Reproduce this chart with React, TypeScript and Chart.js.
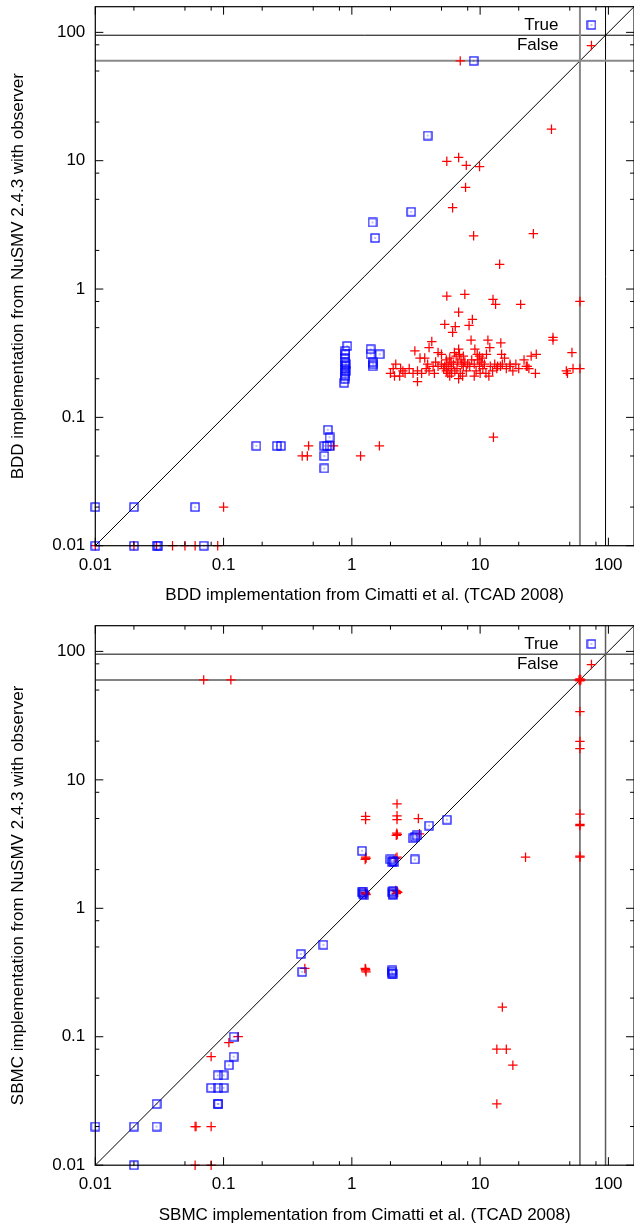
import React, { useEffect, useRef } from 'react';
import { Chart, registerables } from 'chart.js';

Chart.register(...registerables);

const FONT = "'Liberation Sans', Arial, Helvetica, sans-serif";
const AXIS_MIN = 0.01;
const AXIS_MAX = 158.5;
const majorTicks = [0.01, 0.1, 1, 10, 100];
const tickLabels = ['0.01', '0.1', '1', '10', '100'];
const minorSteps = [2, 5, 8];
const timeoutLimit = 60;
const upperLimit = 95;
const legendLabels = ['True', 'False'];

// ---- Top panel: BDD ----
const bddTrueX = [0.01, 0.01, 0.02, 0.02, 0.03, 0.031, 0.06, 0.07, 0.18, 0.26, 0.28, 0.61, 0.61, 0.61, 0.64, 0.67, 0.67, 0.65, 0.92, 0.89, 0.89, 0.88, 0.89, 0.9, 0.89, 0.88, 0.9, 0.88, 0.89, 0.88, 0.87, 1.4, 1.4, 1.65, 1.45, 1.47, 1.45, 1.45, 1.52, 2.9, 3.9, 8.9];
const bddTrueY = [0.01, 0.02, 0.02, 0.01, 0.01, 0.01, 0.02, 0.01, 0.06, 0.06, 0.06, 0.04, 0.05, 0.06, 0.06, 0.06, 0.07, 0.08, 0.36, 0.33, 0.31, 0.29, 0.27, 0.26, 0.25, 0.24, 0.23, 0.22, 0.21, 0.2, 0.186, 0.34, 0.31, 0.31, 0.27, 0.26, 0.25, 3.3, 2.5, 4.0, 15.7, 60];

const bddFalseX = [
  0.01, 0.02, 0.03, 0.04, 0.05, 0.06, 0.09, 0.1, 0.41, 0.45,
  0.46, 0.72, 1.17, 1.64, 12.7, 7.0, 36, 5.5, 6.8, 7.8,
  9.9, 7.7, 6.1, 8.9, 26, 14.2, 5.5, 7.6, 12.6, 13.2,
  20.7, 60, 6.8, 5.3, 6.4, 6.1, 8.7, 8.2, 37, 37,
  8.5, 11.5, 4.2, 4.0, 14.5, 11.9, 9.1, 6.8, 3.1, 52,
  4.7, 5.0, 27.4, 25, 3.4, 3.7, 14.7, 9.9, 10.4, 6.5,
  6.9, 7.4, 5.45, 5.95, 22, 5.0, 4.3, 13, 14.9, 17.1,
  13.7, 17.1, 22.9, 24, 2.1, 2.4, 2.15, 2.36, 2.6, 3.0,
  3.25, 3.5, 3.8, 4.0, 4.4, 4.7, 5.3, 5.45, 5.6, 5.8,
  5.95, 6.35, 7.0, 7.4, 7.8, 8.3, 9.3, 9.9, 10.5, 11.1,
  11.7, 13.5, 14.4, 23.3, 27, 47, 48, 53, 60, 3.25,
  5.2, 5.5, 5.7, 6.0, 6.2, 6.6, 6.7, 7.1, 7.2, 7.6,
  8.0, 8.6, 9.0, 9.6, 10.2, 10.8, 12, 12.5, 11.2, 9.5,
  6.3, 5.8, 4.5, 3.9, 2.8, 2.5, 16, 18, 20, 19,
  15.5, 6.8, 7.3, 9.0, 10, 2.2, 2.0,
];
const bddFalseY = [
  0.01, 0.01, 0.01, 0.01, 0.01, 0.01, 0.01, 0.02, 0.05, 0.05,
  0.06, 0.06, 0.05, 0.06, 0.07, 60, 17.6, 9.9, 10.6, 9.2,
  9.0, 6.2, 4.3, 2.6, 2.7, 1.56, 0.88, 0.91, 0.83, 0.76,
  0.76, 0.8, 0.66, 0.53, 0.51, 0.46, 0.58, 0.52, 0.42, 0.4,
  0.4, 0.4, 0.39, 0.35, 0.38, 0.35, 0.34, 0.34, 0.33, 0.32,
  0.32, 0.31, 0.31, 0.3, 0.29, 0.29, 0.31, 0.3, 0.29, 0.3,
  0.31, 0.3, 0.28, 0.27, 0.28, 0.26, 0.25, 0.26, 0.26, 0.26,
  0.25, 0.25, 0.25, 0.24, 0.24, 0.24, 0.21, 0.21, 0.22, 0.22,
  0.23, 0.22, 0.24, 0.23, 0.22, 0.25, 0.25, 0.23, 0.22, 0.21,
  0.24, 0.23, 0.22, 0.25, 0.23, 0.25, 0.23, 0.25, 0.24, 0.22,
  0.21, 0.24, 0.25, 0.25, 0.22, 0.23, 0.22, 0.24, 0.24, 0.19,
  0.24, 0.26, 0.25, 0.22, 0.26, 0.24, 0.27, 0.28, 0.26, 0.27,
  0.26, 0.28, 0.26, 0.28, 0.27, 0.26, 0.25, 0.23, 0.31, 0.31,
  0.32, 0.29, 0.27, 0.26, 0.24, 0.23, 0.24, 0.23, 0.24, 0.26,
  0.29, 0.2, 0.21, 0.21, 0.22, 0.26, 0.22,
];

// ---- Bottom panel: SBMC ----
const sbmcTrueX = [
  0.01, 0.02, 0.03, 0.02, 0.03, 0.09, 0.091, 0.08, 0.09, 0.1,
  0.09, 0.1, 0.11, 0.12, 0.12, 0.41, 0.4, 0.6, 2.05, 2.05,
  2.07, 2.1, 1.22, 1.2, 1.25, 1.23, 2.1, 2.05, 2.1, 2.08,
  1.2, 2.05, 2.1, 2.0, 2.15, 3.1, 3.0, 3.1, 3.2, 4.0, 5.5,
];
const sbmcTrueY = [
  0.02, 0.02, 0.02, 0.01, 0.03, 0.03, 0.03, 0.04, 0.04, 0.04,
  0.05, 0.05, 0.06, 0.07, 0.1, 0.32, 0.44, 0.52, 0.31, 0.32,
  0.33, 0.31, 1.3, 1.33, 1.28, 1.35, 1.3, 1.33, 1.36, 1.28,
  2.8, 2.3, 2.35, 2.4, 2.3, 2.4, 3.5, 3.6, 3.7, 4.4, 4.9,
];
const sbmcFalseX = [
  0.06, 0.08, 0.06, 0.061, 0.08, 0.08, 0.11, 0.13, 0.43, 1.28,
  1.27, 1.29, 1.28, 1.28, 1.27, 1.29, 2.25, 2.22, 2.28, 2.2,
  1.28, 1.27, 1.29, 2.25, 2.2, 2.24, 2.22, 2.26, 3.37, 3.3,
  1.28, 1.28, 2.25, 2.25, 2.25, 13.5, 13.5, 16, 18, 14.9,
  22.6, 60, 60, 60, 60, 60, 60, 60, 60, 60,
  61, 59, 60, 60, 0.07, 0.114,
];
const sbmcFalseY = [
  0.01, 0.01, 0.02, 0.02, 0.02, 0.07, 0.09, 0.1, 0.34, 0.33,
  0.34, 0.32, 0.335, 1.3, 1.33, 1.28, 1.35, 1.3, 1.33, 1.38,
  2.5, 2.4, 2.45, 2.5, 2.45, 3.85, 3.7, 3.75, 3.8, 5.0,
  5.2, 4.9, 5.25, 4.9, 6.5, 0.03, 0.08, 0.08, 0.06, 0.17,
  2.5, 2.5, 2.55, 4.4, 4.5, 5.4, 17.5, 19.9, 34, 60,
  60, 60, 59, 61, 60, 60,
];

const CANVAS_W = 640;
const CANVAS_H = 613;
const BLUE = 'rgb(0,0,255)';
const RED = 'rgb(255,0,0)';

function makeSquareMarker(): HTMLCanvasElement {
  const c = document.createElement('canvas');
  c.width = 10;
  c.height = 10;
  const g = c.getContext('2d')!;
  g.strokeStyle = 'rgba(0,0,255,0.9)';
  g.lineWidth = 1.3;
  g.strokeRect(1, 1, 8, 8);
  g.fillStyle = BLUE;
  g.fillRect(4.5, 4.5, 1, 1);
  return c;
}

const toPoints = (xs: number[], ys: number[]) => xs.map((x, i) => ({ x, y: ys[i] }));

const framePlugin = {
  id: 'gnuFrame',
  afterDatasetsDraw(chart: any, _args: any, opts: any) {
    const { ctx, chartArea: a, scales } = chart;
    const xs = scales.x;
    const ys = scales.y;
    ctx.save();
    ctx.strokeStyle = '#000';
    ctx.lineWidth = 1.2;
    ctx.strokeRect(a.left, a.top, a.right - a.left, a.bottom - a.top);
    const marks: [number, number][] = [];
    for (const m of majorTicks) {
      marks.push([m, 8]);
      for (const k of minorSteps) {
        const v = m * k;
        if (v < AXIS_MAX) marks.push([v, 4]);
      }
    }
    ctx.lineWidth = 1;
    ctx.beginPath();
    for (const [v, len] of marks) {
      const px = xs.getPixelForValue(v);
      ctx.moveTo(px, a.bottom);
      ctx.lineTo(px, a.bottom - len);
      ctx.moveTo(px, a.top);
      ctx.lineTo(px, a.top + len);
      const py = ys.getPixelForValue(v);
      ctx.moveTo(a.left, py);
      ctx.lineTo(a.left + len, py);
      ctx.moveTo(a.right, py);
      ctx.lineTo(a.right - len, py);
    }
    ctx.stroke();

    // key
    ctx.font = `17px ${FONT}`;
    ctx.fillStyle = '#000';
    ctx.textAlign = 'right';
    ctx.textBaseline = 'middle';
    const tx = a.right - 75.6;
    const mx = a.right - 42.6;
    const r1 = a.top + 18.3;
    const r2 = a.top + 38.8;
    ctx.fillText(legendLabels[0], tx, r1);
    ctx.fillText(legendLabels[1], tx, r2);
    ctx.drawImage(opts.marker, mx - 5, r1 - 5);
    ctx.strokeStyle = RED;
    ctx.lineWidth = 1.25;
    ctx.beginPath();
    ctx.moveTo(mx - 4.7, r2);
    ctx.lineTo(mx + 4.7, r2);
    ctx.moveTo(mx, r2 - 4.7);
    ctx.lineTo(mx, r2 + 4.7);
    ctx.stroke();
    ctx.restore();
  },
};

interface PanelSpec {
  trueX: number[];
  trueY: number[];
  falseX: number[];
  falseY: number[];
  xTitle: string;
  yTitle: string;
  padTop: number;
  xAxisHeight: number;
  xTitlePad: number;
  lowColor: string;
  lowWidth: number;
  highColor: string;
  highWidth: number;
}

function refLine(points: { x: number; y: number }[], color: string, width: number) {
  return {
    data: points,
    showLine: true,
    borderColor: color,
    borderWidth: width,
    pointRadius: 0,
    fill: false,
    clip: false,
  };
}

function buildConfig(spec: PanelSpec, marker: HTMLCanvasElement): any {
  const tickFont = { family: FONT, size: 17 };
  return {
    type: 'scatter',
    data: {
      datasets: [
        {
          label: legendLabels[0],
          data: toPoints(spec.trueX, spec.trueY),
          pointStyle: marker,
          pointRadius: 4.5,
          showLine: false,
          clip: false,
        },
        {
          label: legendLabels[1],
          data: toPoints(spec.falseX, spec.falseY),
          pointStyle: 'cross',
          pointRadius: 4.7,
          borderColor: RED,
          pointBorderColor: RED,
          borderWidth: 1.25,
          pointBorderWidth: 1.25,
          showLine: false,
          clip: false,
        },
        refLine([{ x: AXIS_MIN, y: timeoutLimit }, { x: AXIS_MAX, y: timeoutLimit }], spec.lowColor, spec.lowWidth),
        refLine([{ x: timeoutLimit, y: AXIS_MIN }, { x: timeoutLimit, y: AXIS_MAX }], spec.lowColor, spec.lowWidth),
        refLine([{ x: AXIS_MIN, y: upperLimit }, { x: AXIS_MAX, y: upperLimit }], spec.highColor, spec.highWidth),
        refLine([{ x: upperLimit, y: AXIS_MIN }, { x: upperLimit, y: AXIS_MAX }], spec.highColor, spec.highWidth),
        refLine([{ x: AXIS_MIN, y: AXIS_MIN }, { x: AXIS_MAX, y: AXIS_MAX }], '#000', 1),
      ],
    },
    options: {
      animation: false,
      responsive: false,
      events: [],
      layout: { padding: { top: spec.padTop, right: CANVAS_W - 634.6, left: 0, bottom: 0 } },
      plugins: {
        legend: { display: false },
        tooltip: { enabled: false },
        gnuFrame: { marker },
      },
      scales: {
        x: {
          type: 'logarithmic',
          position: 'bottom',
          min: AXIS_MIN,
          max: AXIS_MAX,
          grid: { display: false, drawTicks: false },
          border: { display: false },
          afterBuildTicks: (s: any) => {
            s.ticks = majorTicks.map((v) => ({ value: v }));
          },
          afterFit: (s: any) => {
            s.height = spec.xAxisHeight;
            s.paddingLeft = 0;
            s.paddingRight = 0;
          },
          ticks: {
            autoSkip: false,
            maxRotation: 0,
            padding: 9,
            color: '#000',
            font: tickFont,
            callback: (_v: any, i: number) => tickLabels[i],
          },
          title: {
            display: true,
            text: spec.xTitle,
            color: '#000',
            font: tickFont,
            padding: { top: 0, bottom: spec.xTitlePad },
          },
        },
        y: {
          type: 'logarithmic',
          position: 'left',
          min: AXIS_MIN,
          max: AXIS_MAX,
          grid: { display: false, drawTicks: false },
          border: { display: false },
          afterBuildTicks: (s: any) => {
            s.ticks = majorTicks.map((v) => ({ value: v }));
          },
          afterFit: (s: any) => {
            s.width = 95.3;
            s.paddingTop = 0;
            s.paddingBottom = 0;
          },
          ticks: {
            autoSkip: false,
            padding: 10,
            color: '#000',
            font: tickFont,
            callback: (_v: any, i: number) => tickLabels[i],
          },
          title: {
            display: true,
            text: spec.yTitle,
            color: '#000',
            font: tickFont,
            padding: { top: 7.8, bottom: 0 },
          },
        },
      },
    },
    plugins: [framePlugin],
  };
}

function Panel({ spec, top }: { spec: PanelSpec; top: number }) {
  const ref = useRef<HTMLCanvasElement>(null);
  useEffect(() => {
    const marker = makeSquareMarker();
    const chart = new Chart(ref.current as HTMLCanvasElement, buildConfig(spec, marker));
    return () => chart.destroy();
  }, [spec]);
  return (
    <canvas
      ref={ref}
      width={CANVAS_W}
      height={CANVAS_H}
      style={{ position: 'absolute', left: 0, top, width: CANVAS_W, height: CANVAS_H }}
    />
  );
}

const bddSpec: PanelSpec = {
  trueX: bddTrueX,
  trueY: bddTrueY,
  falseX: bddFalseX,
  falseY: bddFalseY,
  xTitle: 'BDD implementation from Cimatti et al. (TCAD 2008)',
  yTitle: 'BDD implementation from NuSMV 2.4.3 with observer',
  padTop: 6.7,
  xAxisHeight: 67.3,
  xTitlePad: 7.8,
  lowColor: '#8a8a8a',
  lowWidth: 2,
  highColor: '#000',
  highWidth: 1,
};

const sbmcSpec: PanelSpec = {
  trueX: sbmcTrueX,
  trueY: sbmcTrueY,
  falseX: sbmcFalseX,
  falseY: sbmcFalseY,
  xTitle: 'SBMC implementation from Cimatti et al. (TCAD 2008)',
  yTitle: 'SBMC implementation from NuSMV 2.4.3 with observer',
  padTop: 12.7,
  xAxisHeight: 60.8,
  xTitlePad: 0.8,
  lowColor: '#5a5a5a',
  lowWidth: 1.5,
  highColor: '#5a5a5a',
  highWidth: 1.5,
};

export default function App() {
  return (
    <div
      style={{
        position: 'absolute',
        left: 0,
        top: 0,
        width: 634,
        height: 1226,
        overflow: 'hidden',
        background: '#fff',
      }}
    >
      <Panel spec={bddSpec} top={0} />
      <Panel spec={sbmcSpec} top={613} />
    </div>
  );
}
